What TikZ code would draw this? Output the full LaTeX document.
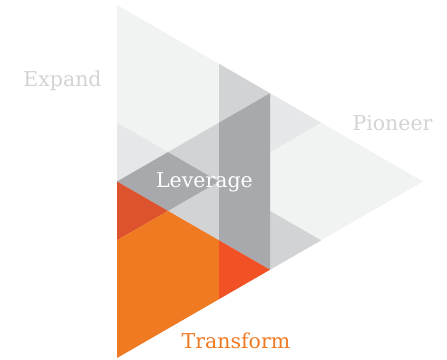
\documentclass[tikz,border=0pt]{standalone}
\usepackage{fontspec}
\setmainfont{DejaVu Serif}
\definecolor{grayA}{HTML}{F1F2F2}
\definecolor{grayB}{HTML}{E6E7E8}
\definecolor{grayC}{HTML}{D1D3D4}
\definecolor{grayD}{HTML}{A7A9AC}
\definecolor{rust}{HTML}{DC532E}
\definecolor{tangerine}{HTML}{F07A22}
\definecolor{vermilion}{HTML}{F15124}
\tikzset{
  word/.style={anchor=base,inner sep=0pt,font=\fontsize{20.5}{20.5}\selectfont},
}
\begin{document}
\begin{tikzpicture}[x=1pt,y=-1pt]
\useasboundingbox (0,0) rectangle (447,359);
\foreach \c in {0,...,6}{\foreach \r in {0,...,12}{\coordinate (p\c-\r) at (117+51*\c,5+29.417*\r);}}
\fill[color=grayA](p0-0)--(p6-6)--(p0-12)--cycle;
\fill[color=grayB](p0-4)--(p1-5)--(p0-6)--cycle;
\fill[color=grayB](p3-3)--(p4-4)--(p3-5)--cycle;
\fill[color=grayC](p2-2)--(p3-3)--(p2-4)--cycle;
\fill[color=grayC](p2-4)--(p1-5)--(p2-6)--(p1-7)--(p2-8)--cycle;
\fill[color=grayC](p3-7)--(p4-8)--(p3-9)--cycle;
\fill[color=grayD](p0-6)--(p1-5)--(p2-6)--(p1-7)--cycle;
\fill[color=grayD](p2-4)--(p3-3)--(p3-9)--(p2-8)--cycle;
\fill[color=rust](p0-6)--(p1-7)--(p0-8)--cycle;
\fill[color=tangerine](p0-8)--(p1-7)--(p2-8)--(p2-10)--(p0-12)--cycle;
\fill[color=vermilion](p2-8)--(p3-9)--(p2-10)--cycle;
\node[word,text=grayC] (expand) at (62.5,86) {Expand};
\node[word,text=grayC] (pioneer) at (392.5,130) {Pioneer};
\node[word,text=white] (leverage) at (204.5,187) {Leverage};
\node[word,text=tangerine] (transform) at (236,348) {Transform};
\end{tikzpicture}
\end{document}
